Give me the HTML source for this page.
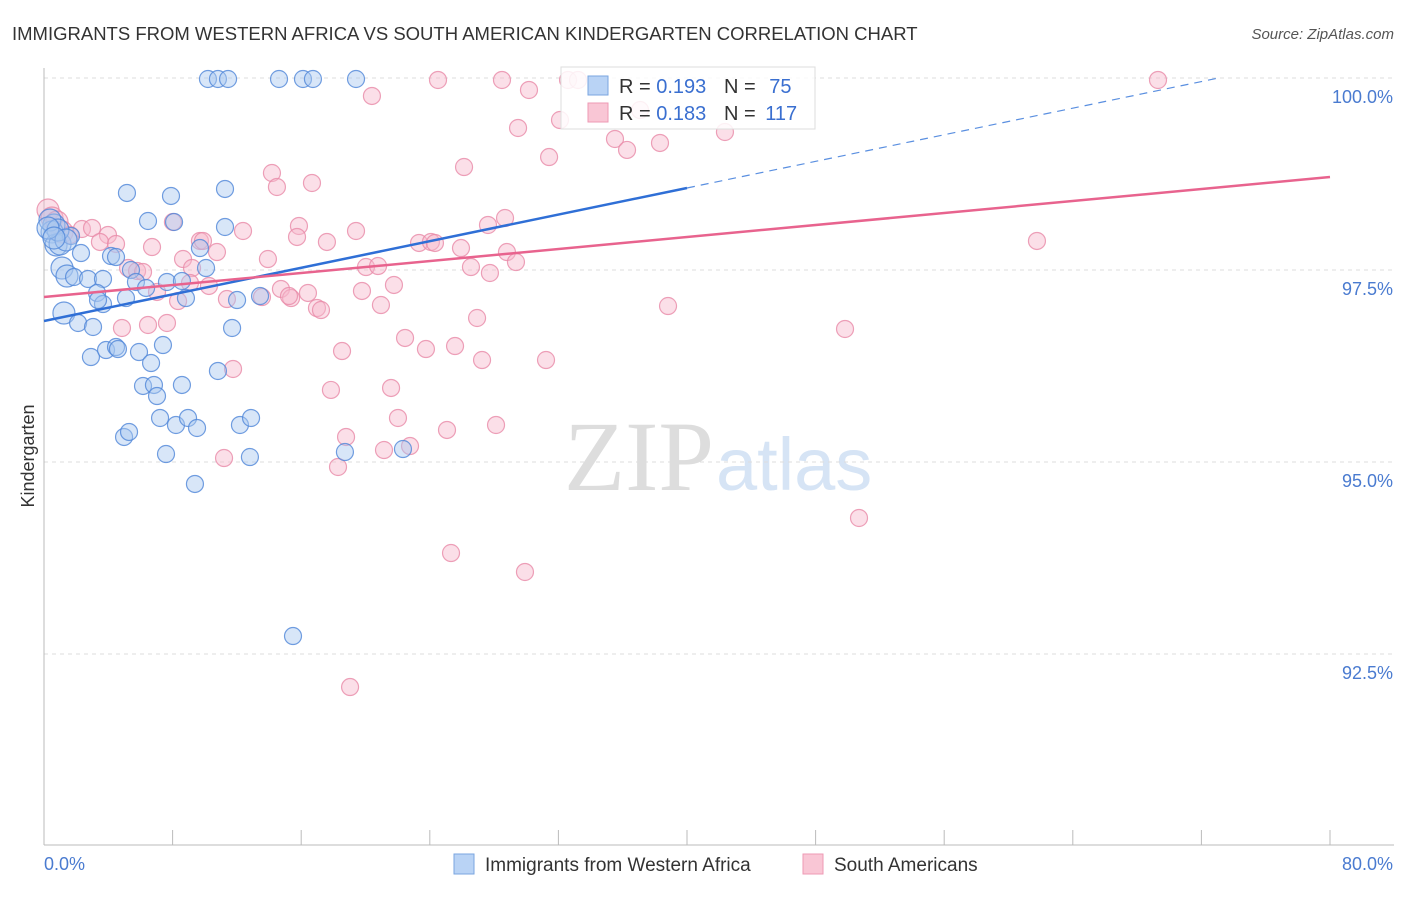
<!DOCTYPE html>
<html><head><meta charset="utf-8"><style>
body{margin:0;background:#fff;font-family:"Liberation Sans",sans-serif}
</style></head><body>
<svg id="c" width="1406" height="892" xmlns="http://www.w3.org/2000/svg">
<text x="12" y="40" font-size="18.5" fill="#333">IMMIGRANTS FROM WESTERN AFRICA VS SOUTH AMERICAN KINDERGARTEN CORRELATION CHART</text>
<text x="1394" y="39" font-size="15" fill="#555" font-style="italic" text-anchor="end">Source: ZipAtlas.com</text>
<text x="34" y="456" font-size="18" fill="#333" transform="rotate(-90 34 456)" text-anchor="middle">Kindergarten</text>
<text x="714" y="490" font-size="100" fill="#ddd" text-anchor="end" font-family="Liberation Serif">ZIP</text>
<text x="716" y="490" font-size="74" fill="#d6e4f5">atlas</text>
<g id="grid"></g><g id="axes"></g><g id="pts"></g><g id="trend"></g>
<g>
<rect x="561" y="67" width="254" height="62" fill="#fff" fill-opacity="0.85" stroke="#ddd"/>
<rect x="588" y="76" width="20" height="19" fill="#b9d3f5" stroke="#7aa6e0"/>
<rect x="588" y="103" width="20" height="19" fill="#f9c6d5" stroke="#ee9ab4"/>
<text x="619" y="93" font-size="20" fill="#333">R = <tspan fill="#3a6fd0">0.193</tspan></text>
<text x="724" y="93" font-size="20" fill="#333">N = <tspan fill="#3a6fd0" dx="8">75</tspan></text>
<text x="619" y="120" font-size="20" fill="#333">R = <tspan fill="#3a6fd0">0.183</tspan></text>
<text x="724" y="120" font-size="20" fill="#333">N = <tspan fill="#3a6fd0" dx="4">117</tspan></text>
</g>
<g>
<rect x="454" y="854" width="20" height="20" fill="#b9d3f5" stroke="#7aa6e0"/>
<text x="485" y="871" font-size="19" fill="#333">Immigrants from Western Africa</text>
<rect x="803" y="854" width="20" height="20" fill="#f9c6d5" stroke="#ee9ab4"/>
<text x="834" y="871" font-size="19" fill="#333">South Americans</text>
</g>
</svg>
<script>
const yTicks=[100,97.5,95,92.5];
const yTickLabels=["100.0%","97.5%","95.0%","92.5%"];
const xTickLabels=["0.0%","80.0%"];
const bluePx=[[208,79],[218,79],[228,79],[279,79],[303,79],[313,79],[356,79],[127,193],[171,196],[225,189],[148,221],[174,222],[225,227],[54,225],[52,232],[56,245],[60,244],[71,236],[81,253],[111,256],[116,257],[200,248],[62,268],[67,276],[74,277],[88,279],[103,279],[131,270],[136,282],[167,282],[182,281],[206,268],[97,293],[103,304],[98,300],[126,298],[146,288],[186,298],[237,300],[260,296],[64,313],[78,323],[93,327],[232,328],[91,357],[106,350],[116,347],[118,349],[139,352],[163,345],[151,363],[143,386],[154,385],[182,385],[157,396],[218,371],[160,418],[176,425],[188,418],[197,428],[240,425],[251,418],[124,437],[129,432],[166,454],[250,457],[345,452],[403,449],[195,484],[293,636],[50,220],[58,230],[66,240],[48,228],[54,238]];
const pinkPx=[[48,210],[52,218],[57,222],[62,232],[70,235],[82,229],[92,228],[108,235],[100,242],[116,244],[128,268],[137,271],[143,272],[152,247],[173,222],[183,259],[192,268],[200,241],[203,241],[217,252],[209,286],[178,301],[190,283],[157,292],[122,328],[148,325],[167,323],[233,369],[224,458],[243,231],[268,259],[227,299],[262,297],[281,289],[291,298],[308,293],[317,308],[321,310],[289,296],[272,173],[277,187],[312,183],[299,226],[297,237],[327,242],[356,231],[342,351],[331,390],[346,437],[338,467],[350,687],[372,96],[438,80],[502,80],[529,90],[518,128],[549,157],[464,167],[560,120],[568,80],[578,80],[615,139],[627,150],[660,143],[725,132],[1158,80],[640,110],[488,225],[505,218],[419,243],[431,242],[435,243],[461,248],[507,252],[516,262],[366,267],[378,266],[394,285],[471,267],[490,273],[362,291],[381,305],[405,338],[426,349],[455,346],[477,318],[482,360],[546,360],[391,388],[398,418],[384,450],[410,446],[447,430],[496,425],[451,553],[525,572],[668,306],[845,329],[859,518],[1037,241]];
const blueX=bluePx.map(p=>+((p[0]-44)/16.075).toFixed(2));
const blueY=bluePx.map(p=>+(100-(p[1]-78)/76.8).toFixed(3));
const pinkX=pinkPx.map(p=>+((p[0]-44)/16.075).toFixed(2));
const pinkY=pinkPx.map(p=>+(100-(p[1]-78)/76.8).toFixed(3));
const blueTrend=[96.836,98.568];
const pinkTrend=[97.148,98.711];
const NS="http://www.w3.org/2000/svg";
const X=v=>44+v*16.075, Y=v=>78+(100-v)*76.8;
function mk(tag,attrs,parent){const e=document.createElementNS(NS,tag);for(const k in attrs)e.setAttribute(k,attrs[k]);document.getElementById(parent).appendChild(e);return e;}
yTicks.forEach((t,i)=>{
 const l=mk('line',{x1:44,x2:1394,y1:Y(t),y2:Y(t),stroke:'#ddd','stroke-dasharray':'4 4'},'grid');
 
 
 const tx=mk('text',{x:1393,y:Y(t)+25,'font-size':18,fill:'#4a7bd0','text-anchor':'end'},'grid');
 tx.textContent=yTickLabels[i];
 
 
});
let a=mk('line',{x1:44,x2:44,y1:68,y2:845,stroke:'#bbb'},'axes');


a=mk('line',{x1:44,x2:1394,y1:845,y2:845,stroke:'#bbb'},'axes');


for(let i=0;i<=10;i++){const t=mk('line',{x1:X(i*8),x2:X(i*8),y1:830,y2:845,stroke:'#bbb'},'axes');
 
 }
let xl=mk('text',{x:44,y:870,'font-size':18,fill:'#4a7bd0'},'axes');xl.textContent=xTickLabels[0];


xl=mk('text',{x:1393,y:870,'font-size':18,fill:'#4a7bd0','text-anchor':'end'},'axes');xl.textContent=xTickLabels[1];


function dots(xs,ys,fill,stroke,name){xs.forEach((x,i)=>{const r=x<1.5?11:8.5;
 const c=mk('circle',{cx:X(x),cy:Y(ys[i]),r:r,fill:fill,'fill-opacity':0.45,stroke:stroke,'stroke-opacity':0.8,'stroke-width':1.2},'pts');
 
 });}
dots(pinkX,pinkY,'#f7b9cb','#e98aa8','south-americans-point');
dots(blueX,blueY,'#a9c8f0','#4f86d8','western-africa-point');
let t=mk('line',{x1:X(0),y1:Y(blueTrend[0]),x2:X(40),y2:Y(blueTrend[1]),stroke:'#2f6fd6','stroke-width':2.5},'trend');


const s=(blueTrend[1]-blueTrend[0])/40, xe=(100-blueTrend[0])/s;
t=mk('line',{x1:X(40),y1:Y(blueTrend[1]),x2:X(xe),y2:Y(100),stroke:'#5a8fe0','stroke-width':1.2,'stroke-dasharray':'8 6'},'trend');


t=mk('line',{x1:X(0),y1:Y(pinkTrend[0]),x2:X(80),y2:Y(pinkTrend[1]),stroke:'#e8638e','stroke-width':2.5},'trend');


</script>
</body></html>
